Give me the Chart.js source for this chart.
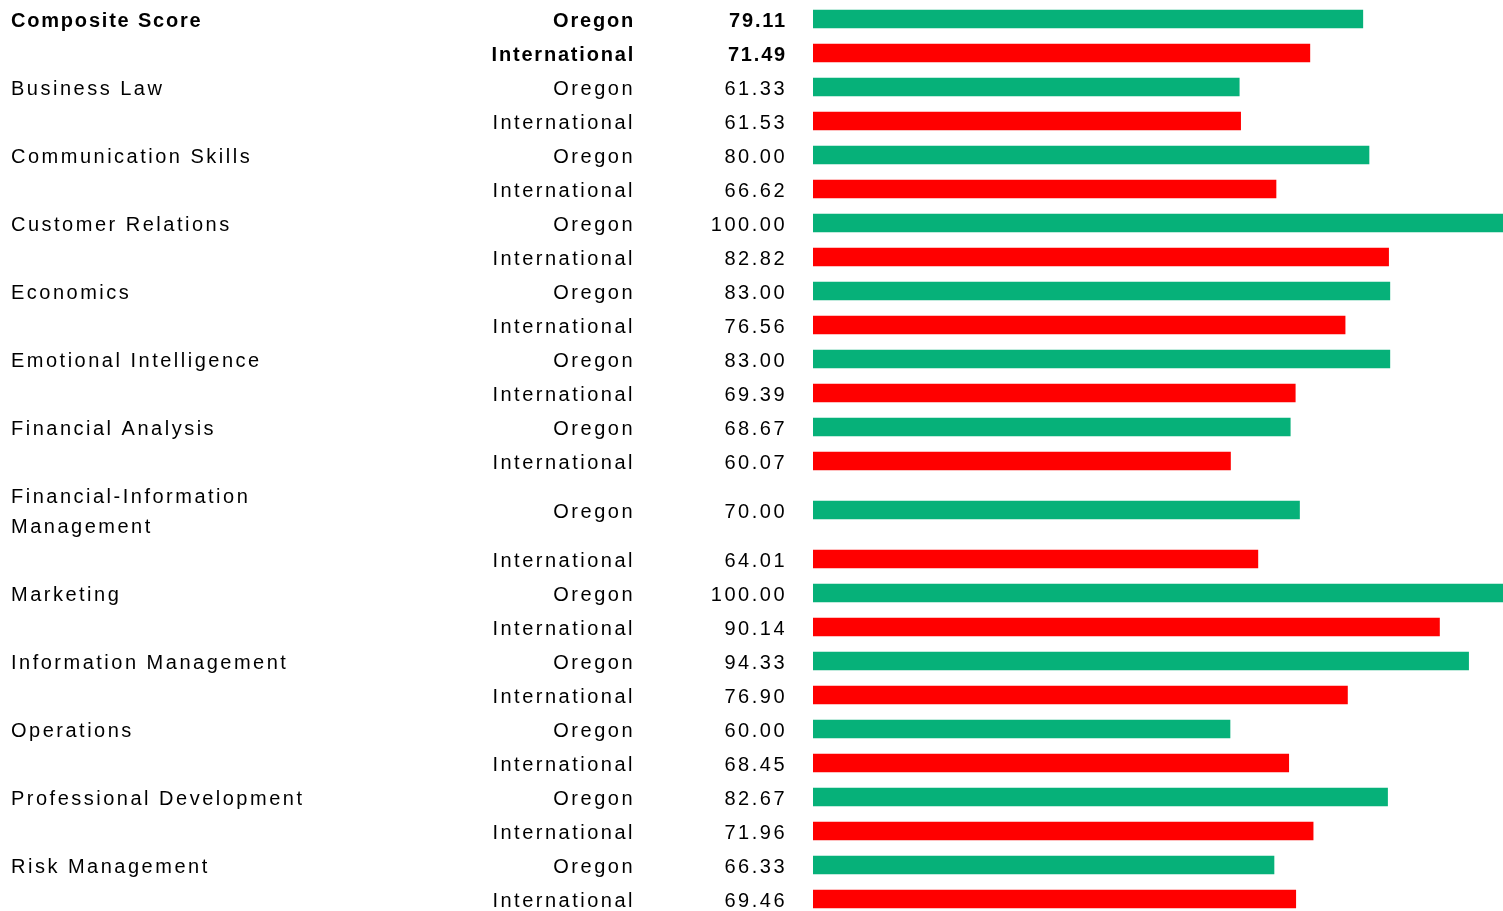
<!DOCTYPE html>
<html><head><meta charset="utf-8">
<script src="https://cdn.jsdelivr.net/npm/chart.js@4.4.1/dist/chart.umd.min.js"></script>
<style>html,body{margin:0;padding:0;background:#fff;overflow:hidden}#wrap{width:1508px;height:911px;position:relative}</style>
</head><body><div id="wrap"><canvas id="c"></canvas></div>
<script>
// ---- data ----
const categories = ['Composite Score','Business Law','Communication Skills','Customer Relations','Economics','Emotional Intelligence','Financial Analysis','Financial-Information Management','Marketing','Information Management','Operations','Professional Development','Risk Management'];
const groups = ['Oregon','International'];
const oregonScores = [79.11,61.33,80.00,100.00,83.00,83.00,68.67,70.00,100.00,94.33,60.00,82.67,66.33];
const internationalScores = [71.49,61.53,66.62,82.82,76.56,69.39,60.07,64.01,90.14,76.90,68.45,71.96,69.46];
const scoreRange = [0, 100];

// ---- styling / layout ----
const seriesColors = ['#06B179', '#FF0000'];
const FONT_FAMILY = '"Liberation Sans", Arial, Helvetica, sans-serif';
const FONT_SIZE = 20, LINE_H = 30, ROW_H = 34, FIRST_ROW_Y = 19, CANVAS_H = 911;
const SPACING_REGULAR = '2.5px', SPACING_BOLD = '1.8px';
const CAT_WRAP = 320;

function applySpacing(ctx) {
  if (ctx.__spacingPatched) return;
  const desc = Object.getOwnPropertyDescriptor(CanvasRenderingContext2D.prototype, 'font');
  Object.defineProperty(ctx, 'font', {
    configurable: true,
    get() { return desc.get.call(this); },
    set(v) { desc.set.call(this, v); this.letterSpacing = /bold/.test(v) ? SPACING_BOLD : SPACING_REGULAR; }
  });
  ctx.__spacingPatched = true;
}

const mctx = document.createElement('canvas').getContext('2d');
applySpacing(mctx);
mctx.font = FONT_SIZE + 'px ' + FONT_FAMILY;
function wrap(text) {
  const words = text.split(' '); const lines = []; let cur = '';
  for (const w of words) {
    const t = cur ? cur + ' ' + w : w;
    if (cur && mctx.measureText(t).width > CAT_WRAP) { lines.push(cur); cur = w; } else cur = t;
  }
  lines.push(cur); return lines;
}
const catLines = categories.map(wrap);

const seriesValues = [oregonScores, internationalScores];
const rows = [];
let pos = 0;
categories.forEach((cat, ci) => {
  const extra = (catLines[ci].length - 1) * LINE_H / ROW_H / 2;
  groups.forEach((g, gi) => {
    if (gi === 0) pos += extra;
    rows.push({ ci, gi, pos, value: seriesValues[gi][ci] });
    if (gi === 0) pos += extra;
    pos += 1;
  });
});
const catRows = rows.filter(r => r.gi === 0);

const yMin = -FIRST_ROW_Y / ROW_H;
const yMax = yMin + CANVAS_H / ROW_H;

function fontFor(list) {
  return (c) => ({ family: FONT_FAMILY, size: FONT_SIZE, lineHeight: LINE_H / FONT_SIZE,
    weight: (list[c.index] && list[c.index].ci === 0) ? 'bold' : 'normal' });
}
function yAxis(list, weight, width, ticks) {
  return {
    type: 'linear', position: 'left', reverse: true, offset: false, min: yMin, max: yMax, weight,
    grid: { display: false, drawTicks: false, offset: false }, border: { display: false },
    afterBuildTicks: (s) => { s.ticks = list.map(r => ({ value: r.pos })); },
    afterFit: (s) => { s.width = width; s.paddingTop = 0; s.paddingBottom = 0; },
    ticks: Object.assign({ autoSkip: false, labelOffset: 2, color: '#000', font: fontFor(list) }, ticks)
  };
}

const canvas = document.getElementById('c');
applySpacing(canvas.getContext('2d'));

new Chart(canvas, {
  type: 'bar',
  data: {
    datasets: [{
      data: rows.map(r => ({ x: r.value, y: r.pos })),
      backgroundColor: rows.map(r => seriesColors[r.gi]),
      barThickness: 18, xAxisID: 'x', yAxisID: 'y'
    }]
  },
  options: {
    indexAxis: 'y', responsive: true, maintainAspectRatio: false, animation: false,
    devicePixelRatio: 1,
    layout: { padding: { left: 11, right: 0, top: 0, bottom: 0 } },
    plugins: { legend: { display: false }, tooltip: { enabled: false } },
    scales: {
      y: yAxis(rows, 1, 178, { crossAlign: 'near', padding: 26,
        callback: (v, i) => rows[i] ? rows[i].value.toFixed(2) : '' }),
      yGroup: yAxis(rows, 2, 323, { crossAlign: 'near', padding: 0,
        callback: (v, i) => rows[i] ? groups[rows[i].gi] : '' }),
      yCat: yAxis(catRows, 3, 301, { crossAlign: 'far', padding: 0,
        callback: (v, i) => { const l = catLines[catRows[i].ci]; return l.length > 1 ? l : l[0]; } }),
      x: { type: 'linear', min: scoreRange[0], max: scoreRange[1], display: false }
    }
  }
});
</script></body></html>
